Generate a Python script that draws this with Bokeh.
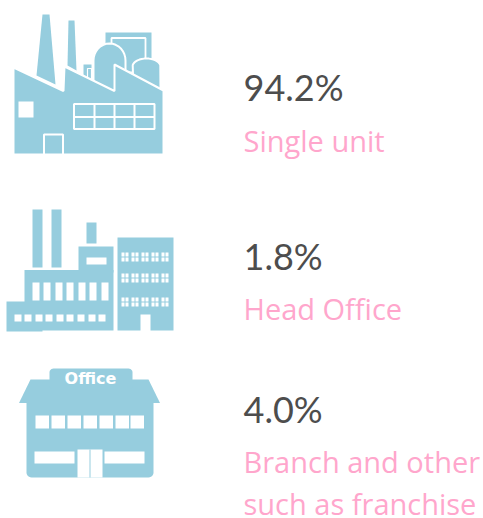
import math
from bokeh.plotting import figure
from bokeh.models import Range1d
from bokeh.core.properties import value
from bokeh.embed import file_html
from bokeh.resources import INLINE

percent_labels = ["94.2%", "1.8%", "4.0%"]
category_labels = ["Single unit", "Head Office", "Branch and other", "such as franchise"]
percent_y = [86, 255, 408]
category_y = [140, 308, 461, 503]
text_x = 243

BLUE = "#96cdde"
WHITE = "#ffffff"
DARK = "#4d4d4d"
PINK = "#ffa6cc"

p = figure(width=483, height=518, x_range=Range1d(0, 483), y_range=Range1d(518, 0),
           output_backend="svg", toolbar_location=None, min_border=0)
p.axis.visible = False
p.grid.visible = False
p.outline_line_color = None
p.background_fill_color = WHITE


def poly(pts, fill=BLUE, line=None, lw=0):
    p.patch([a for a, _ in pts], [b for _, b in pts], fill_color=fill,
            line_color=line, line_width=lw)


def box(x0, y0, x1, y1, fill=BLUE, line=None, lw=0):
    poly([(x0, y0), (x1, y0), (x1, y1), (x0, y1)], fill, line, lw)


def arc(cx, cy, rx, ry, a0, a1, n=16):
    return [(cx + rx * math.cos(math.radians(a0 + (a1 - a0) * i / n)),
             cy + ry * math.sin(math.radians(a0 + (a1 - a0) * i / n))) for i in range(n + 1)]


def rounded(x0, y0, x1, y1, rt, rb, fill=BLUE, line=None, lw=0):
    pts = []
    pts += arc(x0 + rt, y0 + rt, rt, rt, 180, 270, 6) if rt else [(x0, y0)]
    pts += arc(x1 - rt, y0 + rt, rt, rt, 270, 360, 6) if rt else [(x1, y0)]
    pts += arc(x1 - rb, y1 - rb, rb, rb, 0, 90, 6) if rb else [(x1, y1)]
    pts += arc(x0 + rb, y1 - rb, rb, rb, 90, 180, 6) if rb else [(x0, y1)]
    poly(pts, fill, line, lw)


# ---------- Icon 1: factory with tanks ----------
box(105, 32, 151, 72)
box(111, 37.5, 145, 72, fill=None, line=WHITE, lw=1.8)
box(83, 64, 91, 80)
box(87, 68, 91, 80, fill=None, line=WHITE, lw=1.2)
poly(arc(109, 60, 16, 17, 180, 360) + [(125, 92), (93, 92)], BLUE, WHITE, 2)
poly(arc(146, 66, 14, 8, 190, 350) + [(160, 90), (133, 90)], BLUE, WHITE, 2)
poly([(42, 14), (49, 14), (55, 84), (36, 75)])
poly([(68, 20), (74, 20), (76, 70), (67, 65)])
poly([(13, 67), (63, 90.5), (64, 66), (114, 90.5), (114, 64), (163, 90),
      (163, 154), (13, 154)], BLUE, WHITE, 2)
box(18, 101, 33, 117, fill=WHITE)
box(73.5, 103.5, 154, 128.5, fill=BLUE, line=WHITE, lw=2)
for vx in [94, 114, 134]:
    p.line([vx, vx], [103.5, 128.5], line_color=WHITE, line_width=2)
p.line([73.5, 154], [116.5, 116.5], line_color=WHITE, line_width=2)
p.line([43.5, 43.5, 62.5, 62.5], [154, 134, 134, 154], line_color=WHITE, line_width=2)

# ---------- Icon 2: works and office block ----------
box(32, 209, 42, 267)
box(51, 209, 61, 267)
box(86, 222, 96, 243)
box(78, 246, 113, 272)
box(24, 269.5, 113, 330)
box(6, 301, 42, 331)
box(117, 237, 173, 330)
box(86, 257, 106, 264, fill=WHITE)
for wx in [32, 43, 55, 66, 78, 89, 101]:
    box(wx, 282, wx + 7, 300, fill=WHITE)
for wx in [14, 24, 35, 45, 56, 66, 77, 88, 98]:
    box(wx, 314, wx + 7, 321, fill=WHITE)
for gx in [121, 131, 141, 151, 161]:
    for ry in [252, 273, 297]:
        for dx in (0, 4):
            for dy in (0, 5):
                box(gx + dx, ry + dy, gx + dx + 3, ry + dy + 4, fill=WHITE)
box(140, 314, 150, 331, fill=WHITE)

# ---------- Icon 3: office ----------
poly([(30, 379), (148, 379), (159.5, 402.5), (18.5, 402.5)])
rounded(26, 402, 153, 477, 0, 5)
rounded(49, 368, 132, 389, 4, 4)
for wx in [35, 51, 67, 83, 99, 115, 130]:
    box(wx, 415, wx + 13.5, 428, fill=WHITE)
box(34, 451, 74, 463, fill=WHITE)
box(104, 451, 144, 463, fill=WHITE)
box(77, 449, 102, 477, fill=WHITE)
p.line([89.5, 89.5], [449, 477], line_color=BLUE, line_width=1)

p.text([90], [378], text=["Office"], text_color=WHITE, text_font=value("DejaVu Sans"),
       text_font_size="16px", text_font_style="bold", text_align="center",
       text_baseline="alphabetic")

# ---------- Texts ----------
p.text([text_x] * 3, percent_y, text=percent_labels, text_color=DARK, text_font=value("Lato"),
       text_font_size="36px", text_baseline="alphabetic")
p.text([text_x] * 4, category_y, text=category_labels, text_color=PINK, text_font=value("Open Sans"),
       text_font_size="29px", text_baseline="alphabetic")

open("out.html", "w").write(file_html(p, INLINE))
